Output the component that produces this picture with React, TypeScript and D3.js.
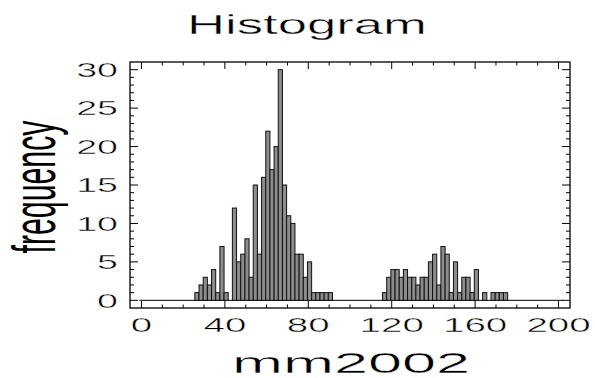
import React from "react";
import * as d3 from "d3";

// Histogram bin counts (bin width 2, first bin starting at 25.6)
const BIN_START = 25.6;
const BIN_WIDTH = 2;
const counts = [
  1, 2, 3, 2, 4, 1, 7, 1, 0, 12,
  5, 6, 8, 3, 15, 6, 16, 22, 17, 20,
  30, 15, 11, 10, 6, 6, 3, 5, 1, 1,
  1, 1, 1, 0, 0, 0, 0, 0, 0, 0,
  0, 0, 0, 0, 0, 1, 3, 4, 4, 3,
  4, 3, 3, 2, 3, 3, 5, 6, 2, 7,
  6, 1, 5, 1, 3, 3, 1, 4, 0, 1,
  0, 1, 1, 1, 1,
];
const xTickLabels = [0, 40, 80, 120, 160, 200];
const yTickLabels = [0, 5, 10, 15, 20, 25, 30];
const xMinorTicks = d3.range(0, 201, 10);
const yMinorTicks = d3.range(0, 31, 1);
const TITLE = "Histogram";
const X_LABEL = "mm2002";
const Y_LABEL = "frequency";

const W = 595;
const H = 378;
const L = 130, R = 570, T = 62, B = 308;
const FONT = "'Liberation Sans', Arial, Helvetica, sans-serif";
const SX = 1.88;
const thin = { stroke: "#fff", strokeWidth: 0.4 } as const;

export default function App() {
  const x = d3.scaleLinear().domain([-5.5, 205.5]).range([L, R]);
  const y = d3.scaleLinear().domain([-1, 31]).range([B, T]);
  const bins = counts.map((c, i) => ({
    x0: BIN_START + i * BIN_WIDTH,
    x1: BIN_START + (i + 1) * BIN_WIDTH,
    c,
  }));

  return (
    <svg
      width={W}
      height={H}
      style={{ position: "absolute", left: 0, top: 0, background: "#fff" }}
    >
      {/* title */}
      <text
        x={307}
        y={34}
        fontFamily={FONT}
        fontSize={28}
        textAnchor="middle"
        textLength={240}
        lengthAdjust="spacingAndGlyphs"
        fill="#000"
        {...thin}
      >
        {TITLE}
      </text>

      {/* zero baseline */}
      <line x1={x(-1)} x2={x(202)} y1={y(0)} y2={y(0)} stroke="#000" strokeWidth={1} />

      {/* bars */}
      {bins
        .filter((b) => b.c > 0)
        .map((b, i) => (
          <rect
            key={i}
            x={x(b.x0)}
            y={y(b.c)}
            width={x(b.x1) - x(b.x0)}
            height={y(0) - y(b.c)}
            fill="#8c8c8c"
            stroke="#111"
            strokeWidth={1}
          />
        ))}

      {/* frame */}
      <rect x={L} y={T} width={R - L} height={B - T} fill="none" stroke="#000" strokeWidth={1.3} />

      {/* y ticks */}
      {yMinorTicks.map((v) => {
        const major = v % 5 === 0;
        const len = major ? 8 : 4;
        return (
          <g key={"y" + v}>
            <line x1={L} x2={L + len} y1={y(v)} y2={y(v)} stroke="#000" />
            <line x1={R} x2={R - len} y1={y(v)} y2={y(v)} stroke="#000" />
          </g>
        );
      })}
      {/* x ticks */}
      {xMinorTicks.map((v) => {
        const major = v % 40 === 0;
        const len = major ? 7 : 3.5;
        return (
          <g key={"x" + v}>
            <line x1={x(v)} x2={x(v)} y1={B} y2={B - len} stroke="#000" />
            <line x1={x(v)} x2={x(v)} y1={T} y2={T + len} stroke="#000" />
          </g>
        );
      })}

      {/* y tick labels */}
      {yTickLabels.map((v) => (
        <text
          key={"yl" + v}
          transform={`translate(118,${y(v)}) scale(${SX},1)`}
          dy="0.36em"
          fontFamily={FONT}
          fontSize={20}
          textAnchor="end"
          fill="#000"
          {...thin}
        >
          {v}
        </text>
      ))}

      {/* x tick labels */}
      {xTickLabels.map((v) => (
        <text
          key={"xl" + v}
          transform={`translate(${x(v)},332) scale(${SX},1)`}
          fontFamily={FONT}
          fontSize={20.5}
          textAnchor="middle"
          fill="#000"
          {...thin}
        >
          {v}
        </text>
      ))}

      {/* x label */}
      <text
        x={351}
        y={373}
        fontFamily={FONT}
        fontSize={29}
        textAnchor="middle"
        textLength={238}
        lengthAdjust="spacingAndGlyphs"
        fill="#000"
        {...thin}
      >
        {X_LABEL}
      </text>

      {/* y label */}
      <text
        transform={`translate(55,187) scale(2,1) rotate(-90)`}
        fontFamily={FONT}
        fontSize={31}
        textAnchor="middle"
        textLength={133}
        lengthAdjust="spacingAndGlyphs"
        fill="#000"
      >
        {Y_LABEL}
      </text>
    </svg>
  );
}
